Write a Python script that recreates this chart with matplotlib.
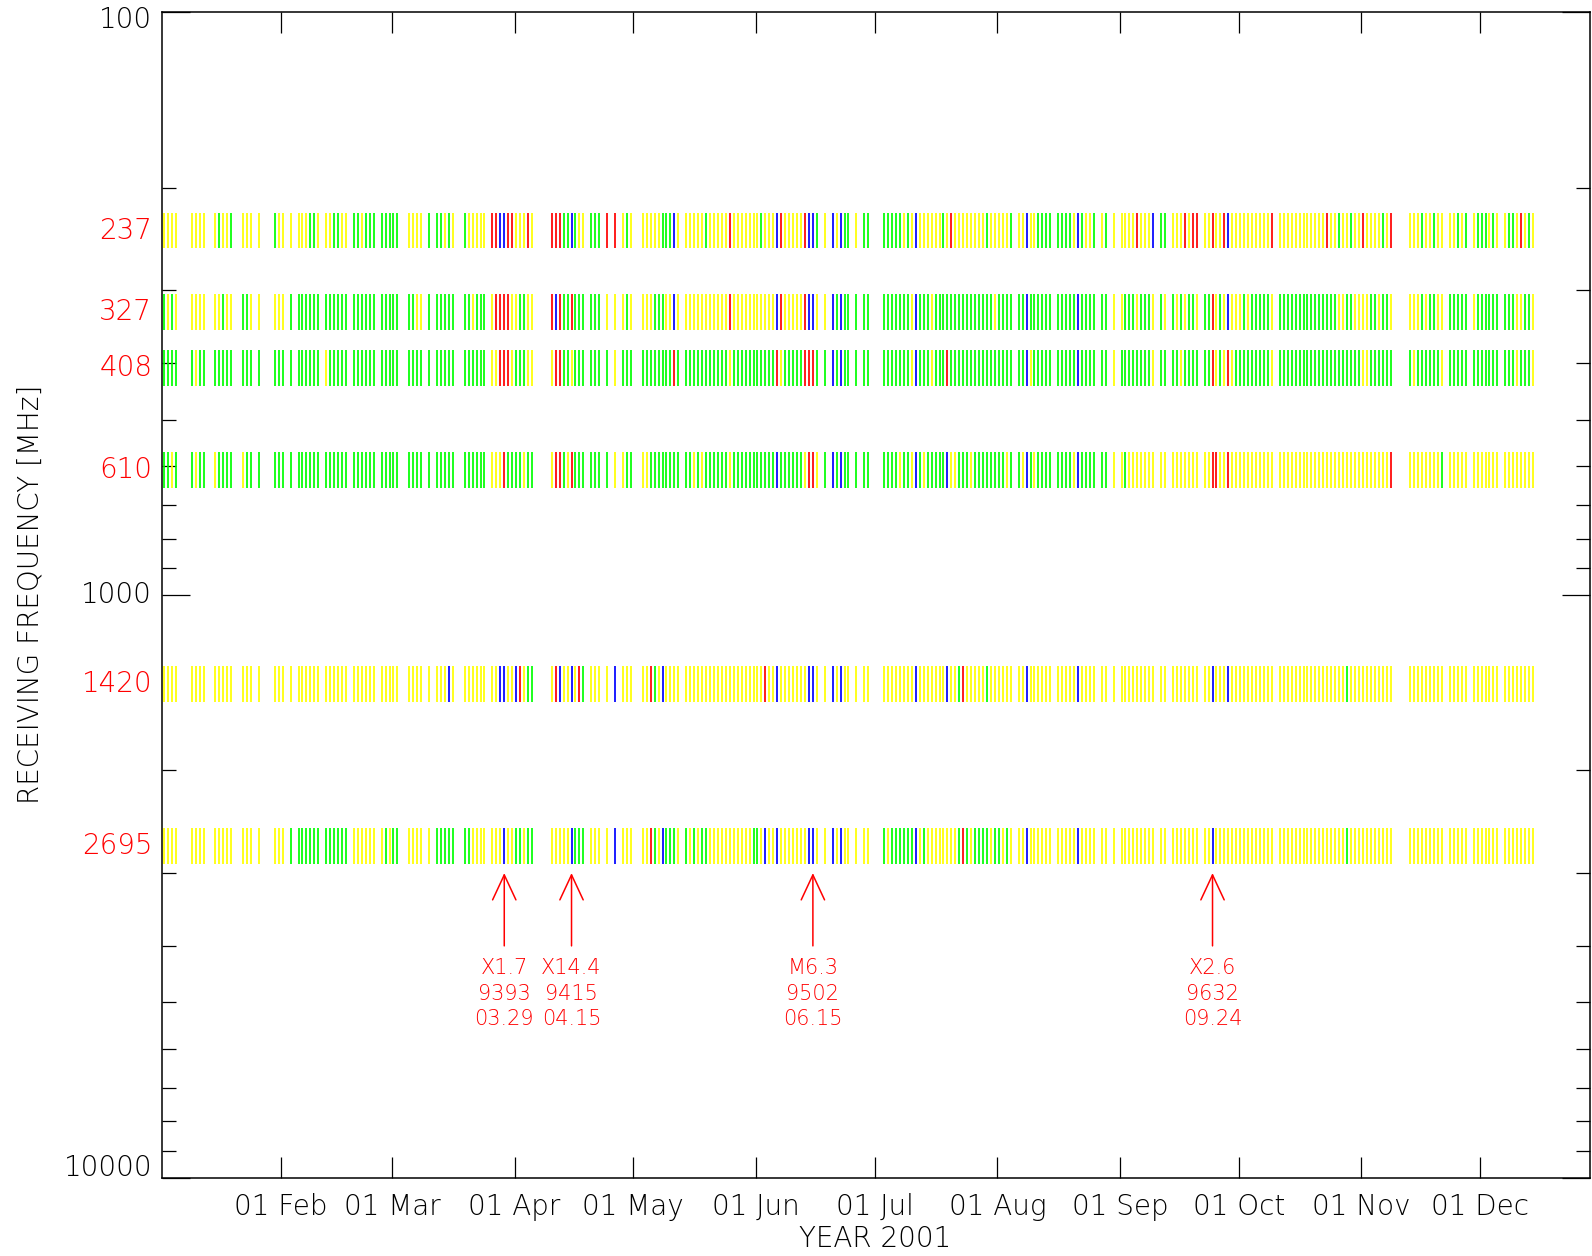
import matplotlib
matplotlib.use("Agg")
import matplotlib.pyplot as plt
from matplotlib.ticker import LogLocator, NullFormatter, FixedLocator

plt.rcParams['font.family'] = ['DejaVu Sans']

# Receiving frequencies (MHz), top to bottom
freqs = [237, 327, 408, 610, 1420, 2695]
freq_labels = ["237", "327", "408", "610", "1420", "2695"]

# Days per month in 2001
month_days = [31, 28, 31, 30, 31, 30, 31, 31, 30, 31, 30, 31]

# Daily classification per frequency, one character per day (Jan 1 = index 0).
# '.' = no observation, y = yellow, g = green, r = red, b = blue
codes_237 = [
    ".yyyy...yyyy..ygyyg..yyy.y...gy",
    "y.y.yyyggy.yyggyy.ggyggg.ggg",
    "gg..yyyy.g.ggygy..gyyyyy.rrbbrr",
    "yyyry....rrrggbgyy.ggg.r.r.ygy",
    "..yyyyygggby.yyyyygyyyyyryyyyyy",
    "ygyyybryyyyyrbbg.y.bybgg.y.gg.",
    "..gggggygybyyyyyygyryyyyyyyygyy",
    "yyyg.yybyygggg.ggggybgyyg.yg.y.",
    "yyyyryyyb.gg.yyyryrr.yyryyrbyy",
    "yyyyyyyyr.yyyyyyyyyyyyryygyygyy",
    "ryyyygyr....yyygyygyy.yygyg.yg",
    "ggygy.yggyrygy" + "." * 17,
]
codes_327 = [
    ".gygy...yyyy..yygyy..ggy.y...yy",
    "y.g.gggggg.gggggg.gggggg.ggg",
    "gg..ggyy.g.ggggg..ggyggg.yrrrry",
    "yggyy....rbrggrggg.ggg.y.y.ygy",
    "..yyygggyyby." + "y" * 11 + "r" + "y" * 6,
    "yyyyybryyyyyrbby.y.bgbgg.g.gg.",
    "..gggggggybgggy" + "g" * 15 + "y",
    "gggg.ggbgggggg.gggggbgggg.gg.y.",
    "ygggygggy.gy.gygyggy.ggrygybyy",
    "ygygggggy." + "g" * 15 + "yyggyy",
    "yyggyggy....yyygyggyy.ggggg.yg",
    "ggggg.gggyyggy" + "." * 17,
]
codes_408 = [
    ".gggg...gygg..ggggg..ggg.g...gg",
    "g.g.gggggg.yggggg.gggggg.ggg",
    "gg..gggg.g.ggggg..gggggg.yyrrry",
    "gggyy....yrrggyggg.ggg.g.y.ggg",
    ".." + "g" * 8 + "rg." + "g" * 11 + "y" + "g" * 6,
    "gggggrygggggrrrg.g.bgbgg.g.gg.",
    "..ggggggg" + "yb" + "gggy" + "ggg" + "r" + "g" * 12,
    "gggg.ggbyggggg.gggggbgggg.gg.y.",
    "ggggggggy.gg.ggygggg.ggrygyryg",
    "g" * 8 + "y." + "g" * 21,
    "yygggggg....gyggggggy.ggggg.gg",
    "ggggg.gggygggy" + "." * 17,
]
codes_610 = [
    ".ggyg...gygg..ygggg..ygg.g...gg",
    "g.g.gggggg.gggggg.gggggg.ggg",
    "gg..gggg.g.ggggg..gggggg.yyyrgg",
    "ggygg....yrrgyrggg.ggg.g.y.ygg",
    "..yy" + "g" * 8 + "." + "ggygy" + "g" * 6 + "y" + "g" * 6,
    "gggggbggggggyrry.g.bgbgg.g.gg.",
    "..ggggyggyb" + "gy" + "ggggg" + "byy" + "gggy" + "gggggg",
    "ggyg.gybgygggg.ggggybgggg.gg.y.",
    "ygyyyyyyy.yy.yyyyyyy.yyrryyryy",
    "y" * 9 + "." + "y" * 21,
    "yyyyyyyr....yyyyyyyyg.yyyyy.yy",
    "yyyyy.yyyyyyyy" + "." * 17,
]
codes_1420 = [
    ".yyyy...yyyy..yyyyy..yyy.y...yy",
    "y.y.yyyyyy.yyyyyy.yyyyyy.yyy",
    "yy..yyyy.y.yyyby..yyyyyy.yybbyy",
    "brygg....yrbyybyrg.yyy.y.b.yyy",
    "..yyrgybyyyy." + "y" * 18,
    "yyryybyyyyyyybby.y.bybyy.y.yy.",
    ".." + "y" * 8 + "b" + "y" * 7 + "byygr" + "yyyyy" + "gyy",
    "yyyy.yybyyyyyy.yyyyybyyyy.yy.y.",
    "yyyyyyyyy.yy.yyyyyyy.yybyyybyy",
    "y" * 9 + "." + "y" * 17 + "g" + "yyy",
    "yyyyyyyy....yyyyyyyyy.yyyyy.yy",
    "yyyyy.yyyyyyyy" + "." * 17,
]
codes_2695 = [
    ".yyyy...yyyy..yyyyy..yyy.y...yy",
    "y.g.gggggg.gggggg.yyyyyy.ygy",
    "gg..yyyy.y.ggggg..ggyyyy.yyybyy",
    "ggygg....yyyyybggg.yyy.y.b.yyy",
    "..yyrgybgggy.gygygg" + "y" * 11 + "g",
    "gybyyb" + "yyyyyyy" + "bby.y.bybyy.y.yy.",
    ".." + "gygggggg" + "byg" + "y" * 8 + "grgy" + "gggg" + "yg",
    "gygy.yybyyyyyy.yyyyybyyyy.yy.y.",
    "yyyyyyyyy.yy.yyyyyyy.yyb" + "y" * 6,
    "y" * 9 + "." + "y" * 17 + "g" + "yyy",
    "yyyyyyyy....yyyyyyyyy.yyyyy.yy",
    "yyyyy.yyyyyyyy" + "." * 17,
]
band_codes = [codes_237, codes_327, codes_408, codes_610, codes_1420, codes_2695]

class_colours = {"y": "#ffff00", "g": "#00ff00", "r": "#ff0000", "b": "#0000ff"}

# Month ticks (day index of the 1st of each month)
month_ticks = [31, 59, 90, 120, 151, 181, 212, 243, 273, 304, 334]
month_labels = ["01 Feb", "01 Mar", "01 Apr", "01 May", "01 Jun", "01 Jul",
                "01 Aug", "01 Sep", "01 Oct", "01 Nov", "01 Dec"]

# Flare events marked below the spectrum bands
event_days = [87, 104, 165, 266]
event_class = ["X1.7", "X14.4", "M6.3", "X2.6"]
event_region = ["9393", "9415", "9502", "9632"]
event_date = ["03.29", "04.15", "06.15", "09.24"]

DAY_OFFSET = 0.4          # position of a day's stroke within the day
BAND_HALF = 10 ** 0.0305  # half height of each band (multiplicative)

fig = plt.figure(figsize=(15.92, 12.56), dpi=100)
ax = fig.add_axes([0.10176, 0.06226, 0.89698, 0.92803])

for f, months in zip(freqs, band_codes):
    for m, (txt, n) in enumerate(zip(months, month_days)):
        assert len(txt) == n, (f, m, len(txt), n)
    s = "".join(months)
    for code, col in class_colours.items():
        xs = [d + DAY_OFFSET for d, c in enumerate(s) if c == code]
        if xs:
            ax.vlines(xs, f / BAND_HALF, f * BAND_HALF, colors=col,
                      linewidth=1.25, zorder=3, capstyle='butt')

ax.set_yscale('log')
ax.set_ylim(10000, 100)
ax.set_xlim(0.9, 361.8)

# axes frame and ticks
for sp in ax.spines.values():
    sp.set_linewidth(1.1)
ax.yaxis.set_major_locator(FixedLocator([100, 1000, 10000]))
ax.yaxis.set_minor_locator(LogLocator(base=10, subs=range(2, 10)))
ax.yaxis.set_major_formatter(NullFormatter())
ax.yaxis.set_minor_formatter(NullFormatter())
ax.tick_params(axis='y', which='major', direction='in', length=20, width=0.9,
               left=True, right=True)
ax.tick_params(axis='y', which='minor', direction='in', length=10, width=0.9,
               left=True, right=True)

ax.set_xticks(month_ticks)
ax.set_xticklabels(month_labels, fontsize=20, fontweight='light')
ax.tick_params(axis='x', which='major', direction='in', length=15, width=0.9,
               top=True, bottom=True, pad=11)
ax.xaxis.set_minor_locator(FixedLocator([]))

ytr = ax.get_yaxis_transform()
# decade labels
for yy, lab in [(0.9931, "100"), (0.5, "1000"), (0.0088, "10000")]:
    ax.text(-0.0068, yy, lab, transform=ax.transAxes, ha='right', va='center',
            fontsize=20, fontweight='light', color='black')
# band labels in red
for f, lab in zip(freqs, freq_labels):
    ax.text(-0.0068, f, lab, transform=ytr, ha='right', va='center',
            fontsize=20, fontweight='light', color='red')

# flare markers
for d, cls, reg, dt in zip(event_days, event_class, event_region, event_date):
    x = d + DAY_OFFSET
    ax.annotate("", xy=(x, 3000), xytext=(x, 4000), xycoords='data',
                arrowprops=dict(arrowstyle="->,head_length=0.9,head_width=0.42",
                                color='red', lw=1.1, mutation_scale=20,
                                shrinkA=0, shrinkB=0))
    for txt, yy in zip((cls, reg, dt), (4360, 4840, 5330)):
        ax.text(x, yy, txt, ha='center', va='center', color='red',
                fontsize=15, fontweight='light')

fig.text(30.5 / 1592, 1 - 594 / 1256, "RECEIVING FREQUENCY [MHz]", rotation=90,
         ha='center', va='center', fontsize=20, fontweight='light')
fig.text(875 / 1592, 1 - 1238.7 / 1256, "YEAR 2001", ha='center', va='center',
         fontsize=20, fontweight='light')

fig.savefig("out.png", dpi=100, facecolor='white')
